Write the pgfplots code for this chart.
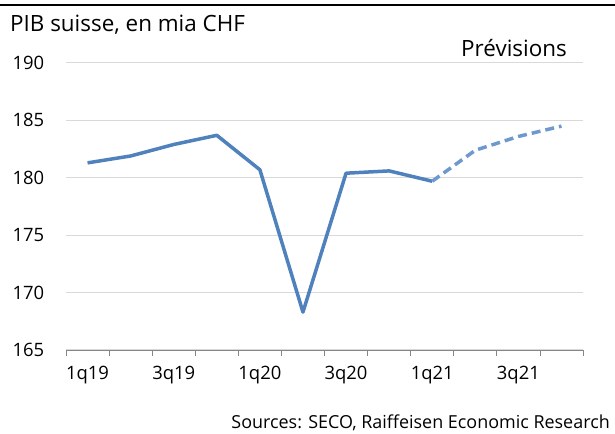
\documentclass[border=0pt]{standalone}
\usepackage{pgfplots}
\pgfplotsset{compat=1.18}
\usepackage{fontspec}
\setmainfont{Open Sans}
\definecolor{lineblue}{RGB}{79,129,189}
\definecolor{dashblue}{RGB}{111,153,206}
\definecolor{gridgray}{RGB}{217,217,217}
\definecolor{axisgray}{RGB}{134,134,134}
\begin{document}
\begin{tikzpicture}[x=1bp,y=1bp]
\path[use as bounding box] (0,0) rectangle (615,434);
\draw[black,line width=2bp] (0,429) -- (615,429);
\node[anchor=base west,inner sep=0pt,font=\fontsize{22.5}{26}\selectfont] at (10,402) {PIB suisse, en mia CHF};
\node[anchor=base east,inner sep=0pt,font=\fontsize{22.5}{26}\selectfont] at (567,377) {Prévisions};
\node[anchor=base east,inner sep=0pt,font=\fontsize{18}{21}\selectfont] at (610,5) {Sources: SECO, Raiffeisen Economic Research};
\begin{axis}[
  at={(66bp,84bp)}, anchor=south west,
  width=517bp, height=287bp, scale only axis,
  xmin=-0.5, xmax=11.5, ymin=165, ymax=190,
  axis x line*=bottom, axis y line*=left,
  y axis line style={draw=none},
  x axis line style={draw=axisgray, line width=0.8bp, -},
  ytick={165,170,...,190},
  ytick style={draw=none},
  ymajorgrids, grid style={gridgray, line width=1bp},
  xtick={0,2,4,6,8,10},
  xticklabels={1q19,3q19,1q20,3q20,1q21,3q21},
  major x tick style={draw=none},
  minor xtick={-0.5,0.5,...,11.5},
  minor x tick style={draw=axisgray, line width=0.8bp},
  xminorgrids=false,
  tick align=outside,
  minor tick length=6bp,
  tick label style={font=\fontsize{18.5}{21}\selectfont, text=black},
  /pgf/number format/assume math mode=true,
  /pgf/number format/1000 sep={},
  yticklabel style={xshift=-14bp},
  xticklabel style={yshift=-8bp},
  clip=false,
]
\addplot[lineblue, line width=3.5bp, line join=round] coordinates {
(0,181.3) (1,181.9) (2,182.9) (3,183.7) (4,180.7) (5,168.3) (6,180.4) (7,180.6) (8,179.7)
};
\addplot[dashblue, line width=3.5bp, dash pattern=on 9bp off 5bp, line join=round] coordinates {
(8,179.7) (9,182.4) (10,183.6) (11,184.5)
};
\end{axis}
\end{tikzpicture}
\end{document}
